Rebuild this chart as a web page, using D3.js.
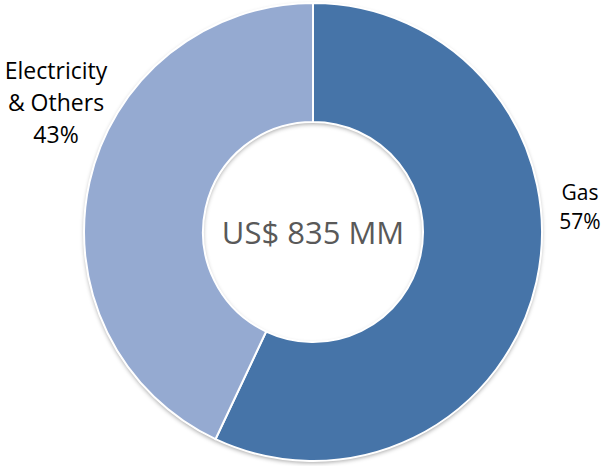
<!DOCTYPE html>
<html>
<head>
<meta charset="utf-8">
<script src="https://cdn.jsdelivr.net/npm/d3@7"></script>
<style>
  body { margin: 0; background: #fff; }
  text { font-family: "Open Sans", "Noto Sans", sans-serif; }
</style>
</head>
<body>
<script>
// data
const categories = ['Gas', 'Electricity & Others'];
const shares = [57, 43];
const colors = ['#4674A8', '#95AAD1'];
const centerLabel = 'US$ 835 MM';

const width = 608, height = 466;
const cx = 313, cy = 232;
const outerR = 229, innerR = 110;

const svg = d3.select('body').append('svg')
  .attr('width', width)
  .attr('height', height);

const defs = svg.append('defs');
const shadow = defs.append('filter').attr('id', 'shadow')
  .attr('x', '-10%').attr('y', '-10%').attr('width', '120%').attr('height', '120%');
shadow.append('feDropShadow')
  .attr('dx', 0).attr('dy', 2).attr('stdDeviation', 2)
  .attr('flood-color', '#000').attr('flood-opacity', 0.35);

const pie = d3.pie().sort(null).value(d => d);
const arc = d3.arc().innerRadius(innerR).outerRadius(outerR);

const g = svg.append('g').attr('transform', `translate(${cx},${cy})`);

// shadow under the ring
g.append('path')
  .attr('d', d3.arc().innerRadius(innerR).outerRadius(outerR)({startAngle: 0, endAngle: 2 * Math.PI}))
  .attr('fill', '#fff')
  .attr('filter', 'url(#shadow)');

g.selectAll('path.slice')
  .data(pie(shares))
  .enter().append('path')
  .attr('class', 'slice')
  .attr('d', arc)
  .attr('fill', (d, i) => colors[i])
  .attr('stroke', '#fff')
  .attr('stroke-width', 2);

// center text
g.append('text')
  .attr('text-anchor', 'middle')
  .attr('y', 12)
  .attr('font-size', 31)
  .attr('fill', '#595959')
  .text(centerLabel);

// labels
const labels = [
  {lines: ['Gas', shares[0] + '%'], x: 580, y: 200, dy: 29, size: 21},
  {lines: ['Electricity', '& Others', shares[1] + '%'], x: 56, y: 79, dy: 32, size: 23}
];
labels.forEach(l => {
  const t = svg.append('text')
    .attr('text-anchor', 'middle')
    .attr('font-size', l.size)
    .attr('fill', '#000');
  l.lines.forEach((s, i) => {
    t.append('tspan').attr('x', l.x).attr('y', l.y + i * l.dy).text(s);
  });
});
</script>
</body>
</html>
